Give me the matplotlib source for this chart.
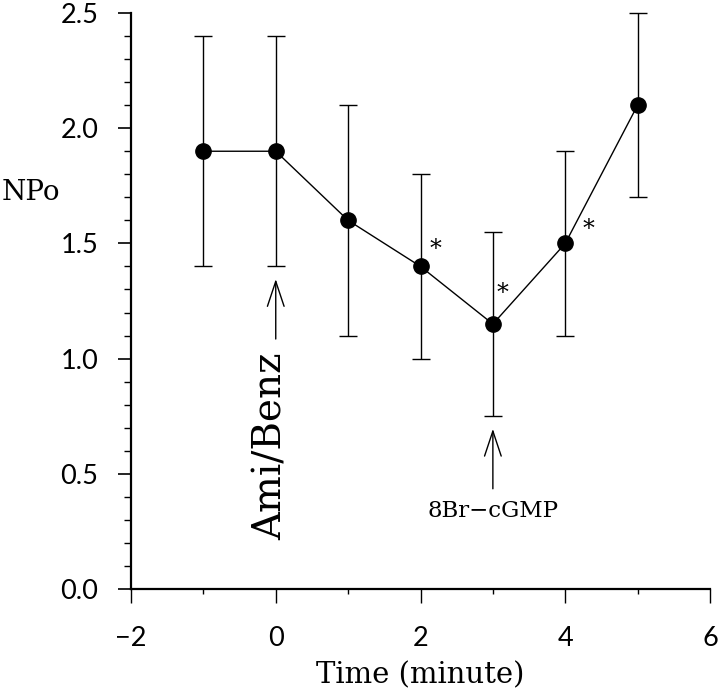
import numpy as np
import matplotlib
matplotlib.use("Agg")
import matplotlib.pyplot as plt
from matplotlib.ticker import MultipleLocator

# data
time_min = [-1, 0, 1, 2, 3, 4, 5]
npo = [1.9, 1.9, 1.6, 1.4, 1.15, 1.5, 2.1]
npo_err = [0.5, 0.5, 0.5, 0.4, 0.4, 0.4, 0.4]
signif = [2, 3, 4]  # points marked with *
star_offsets = {2: (11, 12), 3: (7, 22), 4: (17, 10)}
events = [0, 3]
event_labels = ["Ami/Benz", "8Br\u2212cGMP"]

serif = ["DejaVu Serif"]
tick_font = dict(family=["Lato", "DejaVu Sans"], weight="normal", size=19.5)

fig = plt.figure(figsize=(7.2, 6.93), dpi=100)
ax = fig.add_axes([131 / 720, 104 / 693, 579 / 720, 576 / 693])

ax.errorbar(time_min, npo, yerr=npo_err, fmt="-o", color="black",
            lw=1.0, elinewidth=1.0, capsize=6.5, capthick=1.0,
            ms=11, clip_on=False, zorder=3)

for x in signif:
    i = time_min.index(x)
    ax.annotate("*", xy=(x, npo[i]), xytext=star_offsets[x],
                textcoords="offset points", ha="center", va="center",
                fontsize=17, family=serif)

# treatment arrows below the error bars
for x, lab in zip(events, event_labels):
    i = time_min.index(x)
    tip = npo[i] - npo_err[i] - 0.055
    base = tip - 0.26
    ax.annotate("", xy=(x, tip), xytext=(x, base),
                arrowprops=dict(arrowstyle="->,head_length=0.9,head_width=0.3",
                                mutation_scale=20, lw=1.0, color="black",
                                shrinkA=0, shrinkB=0))
    if x == 0:
        ax.text(x - 0.06, base - 0.06, lab, rotation=90, ha="center",
                va="top", fontsize=28, family=serif)
    else:
        ax.text(x, base - 0.05, lab, ha="center", va="top",
                fontsize=16.5, family=serif)

ax.set_xlim(-2, 6)
ax.set_ylim(0, 2.5)
ax.xaxis.set_major_locator(MultipleLocator(2))
ax.xaxis.set_minor_locator(MultipleLocator(1))
ax.yaxis.set_major_locator(MultipleLocator(0.5))
ax.yaxis.set_minor_locator(MultipleLocator(0.1))
ax.yaxis.set_major_formatter(matplotlib.ticker.FormatStrFormatter("%.1f"))

for s in ["top", "right"]:
    ax.spines[s].set_visible(False)
for s in ["left", "bottom"]:
    ax.spines[s].set_linewidth(1.6)

ax.tick_params(axis="y", which="major", direction="out", length=9.5, width=1.2, pad=14)
ax.tick_params(axis="y", which="minor", direction="out", length=5, width=1.0)
ax.tick_params(axis="x", which="major", direction="out", length=10, width=1.0, pad=17)
ax.tick_params(axis="x", which="minor", direction="out", length=3.5, width=1.0)
for lbl in ax.get_xticklabels() + ax.get_yticklabels():
    lbl.set_fontfamily(tick_font["family"])
    lbl.set_fontweight(tick_font["weight"])
    lbl.set_fontsize(tick_font["size"])

ax.set_xlabel("Time (minute)", fontsize=21, family=serif, labelpad=7)
ax.set_ylabel("NPo", fontsize=20, family=serif, rotation=0,
              ha="center", va="center")
ax.yaxis.set_label_coords(-0.173, 0.6875)

fig.savefig("out.png", dpi=100)
